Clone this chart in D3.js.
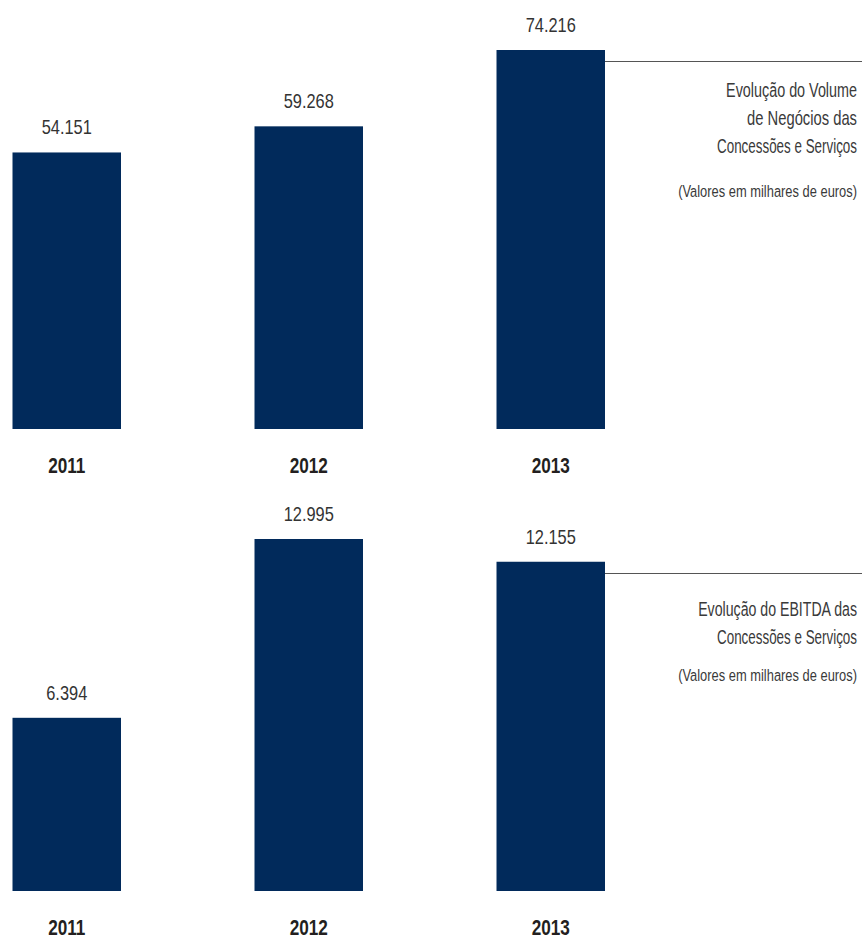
<!DOCTYPE html>
<html>
<head>
<meta charset="utf-8">
<script src="https://cdn.jsdelivr.net/npm/d3@7"></script>
<style>
  html, body { margin: 0; padding: 0; background: #fff; }
  svg { display: block; }
  text { font-family: "Liberation Sans", Arial, sans-serif; }
</style>
</head>
<body>
<svg id="chart" width="862" height="938"></svg>
<script>
// Anos
const years = ["2011", "2012", "2013"];

// Volume de Negócios das Concessões e Serviços (milhares de euros)
const volumeValues = [54151, 59268, 74216];
const volumeTitle = ["Evolução do Volume", "de Negócios das", "Concessões e Serviços"];

// EBITDA das Concessões e Serviços (milhares de euros)
const ebitdaValues = [6394, 12995, 12155];
const ebitdaTitle = ["Evolução do EBITDA das", "Concessões e Serviços"];

const unitNote = "(Valores em milhares de euros)";

const fmt = v => d3.format(",")(v).replace(/,/g, ".");

const svg = d3.select("#chart");
const W = 862;
const BAR = "#012a5b";

const x = d3.scaleBand()
  .domain(years)
  .range([12.5, 605])
  .paddingInner(0.5517)
  .paddingOuter(0);

// Condensed text: draw at the origin, then move and squeeze horizontally.
// k is a fixed squeeze factor, or width is the span the line should occupy.
function condensedText(parent, str, px, py, anchor, size, opts) {
  const t = parent.append("text")
    .attr("x", 0).attr("y", 0)
    .attr("text-anchor", anchor)
    .attr("font-size", size)
    .attr("font-weight", opts.weight || "normal")
    .attr("fill", opts.fill || "#333")
    .text(str);
  let k = opts.k || 0.82;
  if (opts.width) k = opts.width / t.node().getComputedTextLength();
  t.attr("transform", `translate(${px},${py}) scale(${k},1)`);
  return t;
}

function panel(values, titleLines, opts) {
  const g = svg.append("g");
  const y = d3.scaleLinear()
    .domain([0, d3.max(values)])
    .range([opts.base, opts.top]);

  const data = years.map((yr, i) => ({ yr, v: values[i] }));

  g.selectAll("rect.bar").data(data).join("rect")
    .attr("class", "bar")
    .attr("x", d => x(d.yr))
    .attr("width", x.bandwidth())
    .attr("y", d => y(d.v))
    .attr("height", d => y(0) - y(d.v))
    .attr("fill", BAR);

  data.forEach(d => {
    const cx = x(d.yr) + x.bandwidth() / 2;
    condensedText(g, fmt(d.v), cx, y(d.v) - 18, "middle", 20, { k: 0.82, fill: "#333" });
    condensedText(g, d.yr, cx, y(0) + 44, "middle", 22, { k: 0.78, weight: "bold", fill: "#231f20" });
  });

  // rule from the last bar to the right edge
  const last = data[data.length - 1];
  const ruleY = Math.round(y(last.v)) + 11.5;
  g.append("line")
    .attr("x1", x(last.yr) + x.bandwidth())
    .attr("x2", W)
    .attr("y1", ruleY)
    .attr("y2", ruleY)
    .attr("stroke", "#555")
    .attr("stroke-width", 1);

  titleLines.forEach((t, i) => {
    condensedText(g, t, 857, ruleY + opts.titleOffset + i * 28, "end", 21,
      { width: opts.widths[i], fill: "#3a3a3a" });
  });

  condensedText(g, unitNote, 857, ruleY + opts.noteOffset, "end", 17,
    { width: 179, fill: "#3a3a3a" });
}

panel(volumeValues, volumeTitle, {
  base: 429, top: 50, titleOffset: 35, noteOffset: 135,
  widths: [131, 110, 140]
});

panel(ebitdaValues, ebitdaTitle, {
  base: 891, top: 539, titleOffset: 42, noteOffset: 107,
  widths: [159, 140]
});
</script>
</body>
</html>
